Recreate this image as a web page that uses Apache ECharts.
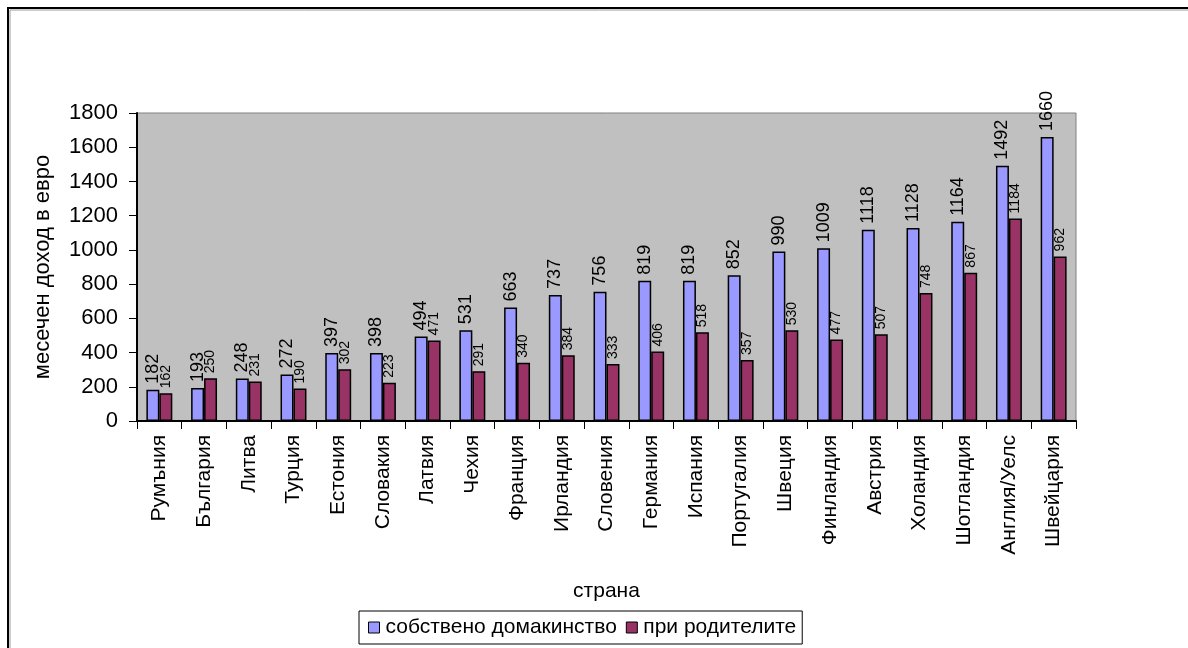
<!DOCTYPE html>
<html>
<head>
<meta charset="utf-8">
<script src="https://cdn.jsdelivr.net/npm/echarts@6/dist/echarts.min.js"></script>
<style>
    html, body {margin: 0; padding: 0; background: #fff;}
    #chart {width: 1188px; height: 648px;}
</style>
</head>
<body>
<div id="chart"></div>
<script>
const FONT = '"Liberation Sans", Arial, sans-serif';
const FONT_NARROW = '"Liberation Sans Narrow", "Liberation Sans", Arial, sans-serif';

// ------------------ data ------------------
const countries = ['Румъния', 'България', 'Литва', 'Турция', 'Естония', 'Словакия', 'Латвия', 'Чехия',
    'Франция', 'Ирландия', 'Словения', 'Германия', 'Испания', 'Португалия', 'Швеция', 'Финландия',
    'Австрия', 'Холандия', 'Шотландия', 'Англия/Уелс', 'Швейцария'];
const ownHousehold = [182, 193, 248, 272, 397, 398, 494, 531, 663, 737, 756, 819, 819, 852, 990, 1009,
    1118, 1128, 1164, 1492, 1660];
const withParents = [162, 250, 231, 190, 302, 223, 471, 291, 340, 384, 333, 406, 518, 357, 530, 477,
    507, 748, 867, 1184, 962];
const seriesNames = ['собствено домакинство', 'при родителите'];

let myChart = echarts.init(document.getElementById('chart'));

let option = {
    backgroundColor: '#fff',
    animation: false,
    textStyle: {fontFamily: FONT},
    graphic: [
        // outer chart frame (runs off the right/bottom of the picture)
        {type: 'rect', shape: {x: 8, y: 8, width: 1300, height: 800},
            style: {fill: null, stroke: '#000', lineWidth: 2}, z: 0},
        {type: 'polyline', shape: {points: [[10, 700], [10, 10], [1300, 10]]},
            style: {fill: null, stroke: '#999', lineWidth: 1}, z: 0}
    ],
    grid: {
        left: 137, right: 112, top: 113, bottom: 227,
        show: true, backgroundColor: '#c0c0c0', borderColor: '#808080', borderWidth: 1
    },
    legend: {
        left: 359, top: 611,
        padding: [6, 6, 6, 9],
        itemGap: 9, itemWidth: 11, itemHeight: 11,
        icon: 'rect',
        borderColor: '#000', borderWidth: 1,
        textStyle: {fontFamily: FONT, fontSize: 21, color: '#000', padding: [0, 0, 0, 1]},
        itemStyle: {borderColor: '#000', borderWidth: 1},
        data: seriesNames
    },
    xAxis: {
        type: 'category',
        data: countries,
        name: 'страна',
        nameLocation: 'middle',
        nameGap: 160,
        nameTextStyle: {fontFamily: FONT, fontSize: 21, color: '#000'},
        axisLine: {lineStyle: {color: '#000', width: 2}},
        axisTick: {show: true, length: 8, alignWithLabel: false, lineStyle: {color: '#000'}},
        axisLabel: {rotate: 90, fontFamily: FONT, fontSize: 21, color: '#000', margin: 14, interval: 0}
    },
    yAxis: {
        type: 'value',
        min: 0, max: 1800, interval: 200,
        name: 'месечен доход в евро',
        nameLocation: 'middle',
        nameGap: 83,
        nameTextStyle: {fontFamily: FONT, fontSize: 22, color: '#000'},
        axisLine: {show: true, lineStyle: {color: '#000', width: 2}},
        axisTick: {show: true, length: 8, lineStyle: {color: '#000'}},
        axisLabel: {fontFamily: FONT, fontSize: 22, color: '#000', margin: 19,
            formatter: function (v) { return String(v); }},
        splitLine: {show: false}
    },
    series: [
        {
            name: seriesNames[0],
            type: 'bar',
            data: ownHousehold,
            barGap: '0%',
            barCategoryGap: '42%',
            itemStyle: {color: '#9999ff', borderColor: '#000', borderWidth: 1.5},
            label: {show: true, position: 'top', rotate: 90, align: 'left', verticalAlign: 'middle',
                distance: 6, fontFamily: FONT, fontSize: 18, color: '#000'}
        },
        {
            name: seriesNames[1],
            type: 'bar',
            data: withParents,
            itemStyle: {color: '#993366', borderColor: '#000', borderWidth: 1.5},
            label: {show: true, position: 'top', rotate: 90, align: 'left', verticalAlign: 'middle',
                distance: 6, offset: [-1, 0], fontFamily: FONT_NARROW, fontSize: 14, color: '#000'}
        }
    ]
};

if (option && typeof option === "object") {
    myChart.setOption(option, true);
}
</script>
</body>
</html>
